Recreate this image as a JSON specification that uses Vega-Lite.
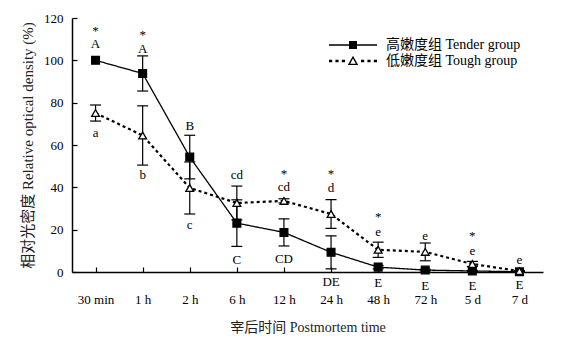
{
  "$schema": "https://vega.github.io/schema/vega-lite/v6.json",
  "autosize": {"type": "none"},
  "width": 471,
  "height": 254,
  "padding": {"left": 72, "top": 18, "right": 20, "bottom": 76},
  "background": "white",
  "config": {
    "font": "Liberation Serif, Noto Sans CJK SC",
    "view": {"stroke": null},
    "axis": {"domainColor": "black", "domainWidth": 1.5, "tickColor": "black", "tickWidth": 1.2, "labelColor": "black", "titleColor": "#222", "labelFontSize": 13, "titleFontSize": 14, "titleFontWeight": "normal", "grid": false, "labelFont": "Liberation Serif, Noto Sans CJK SC", "titleFont": "Liberation Serif, Noto Sans CJK SC"},
    "legend": {"labelFont": "Liberation Serif, Noto Sans CJK SC"},
    "text": {"font": "Liberation Serif, Noto Sans CJK SC"}
  },
  "datasets": {
    "series": [
      {"time": "30 min", "group": "高嫩度组 Tender group", "value": 100, "err": 0},
      {"time": "1 h", "group": "高嫩度组 Tender group", "value": 93.8, "err": 8.3},
      {"time": "2 h", "group": "高嫩度组 Tender group", "value": 54.3, "err": 10.3},
      {"time": "6 h", "group": "高嫩度组 Tender group", "value": 23.1, "err": 11},
      {"time": "12 h", "group": "高嫩度组 Tender group", "value": 18.7, "err": 6.4},
      {"time": "24 h", "group": "高嫩度组 Tender group", "value": 9.3, "err": 7.8},
      {"time": "48 h", "group": "高嫩度组 Tender group", "value": 2.3, "err": 0.8},
      {"time": "72 h", "group": "高嫩度组 Tender group", "value": 0.9, "err": 0.4},
      {"time": "5 d", "group": "高嫩度组 Tender group", "value": 0.5, "err": 0.3},
      {"time": "7 d", "group": "高嫩度组 Tender group", "value": 0.1, "err": 0.1},
      {"time": "30 min", "group": "低嫩度组 Tough group", "value": 75.1, "err": 3.8},
      {"time": "1 h", "group": "低嫩度组 Tough group", "value": 64.5, "err": 14},
      {"time": "2 h", "group": "低嫩度组 Tough group", "value": 39.7, "err": 12.3},
      {"time": "6 h", "group": "低嫩度组 Tough group", "value": 32.6, "err": 8},
      {"time": "12 h", "group": "低嫩度组 Tough group", "value": 33.6, "err": 1},
      {"time": "24 h", "group": "低嫩度组 Tough group", "value": 27.4, "err": 6.8},
      {"time": "48 h", "group": "低嫩度组 Tough group", "value": 10.5, "err": 3.6},
      {"time": "72 h", "group": "低嫩度组 Tough group", "value": 9.5, "err": 4.2},
      {"time": "5 d", "group": "低嫩度组 Tough group", "value": 3.8, "err": 1.2},
      {"time": "7 d", "group": "低嫩度组 Tough group", "value": 0.4, "err": 0.3}
    ],
    "letters": [
      {"time": "30 min", "text": "*", "y": 114},
      {"time": "30 min", "text": "A", "y": 107.5},
      {"time": "1 h", "text": "*", "y": 112},
      {"time": "1 h", "text": "A", "y": 105.5},
      {"time": "2 h", "text": "B", "y": 69},
      {"time": "6 h", "text": "C", "y": 5.7},
      {"time": "12 h", "text": "CD", "y": 6.1},
      {"time": "24 h", "text": "DE", "y": -4.7},
      {"time": "48 h", "text": "E", "y": -5.2},
      {"time": "72 h", "text": "E", "y": -6.6},
      {"time": "5 d", "text": "E", "y": -6.6},
      {"time": "7 d", "text": "E", "y": -6.1},
      {"time": "30 min", "text": "a", "y": 65.9},
      {"time": "1 h", "text": "b", "y": 45.6},
      {"time": "2 h", "text": "c", "y": 22},
      {"time": "6 h", "text": "cd", "y": 45.6},
      {"time": "12 h", "text": "*", "y": 46.5},
      {"time": "12 h", "text": "cd", "y": 40},
      {"time": "24 h", "text": "*", "y": 46.5},
      {"time": "24 h", "text": "d", "y": 39.5},
      {"time": "48 h", "text": "*", "y": 25.9},
      {"time": "48 h", "text": "e", "y": 19},
      {"time": "72 h", "text": "e", "y": 16.8},
      {"time": "5 d", "text": "*", "y": 16.8},
      {"time": "5 d", "text": "e", "y": 9.9},
      {"time": "7 d", "text": "e", "y": 5.9}
    ]
  },
  "encoding": {
    "x": {
      "field": "time", "type": "ordinal",
      "sort": ["30 min", "1 h", "2 h", "6 h", "12 h", "24 h", "48 h", "72 h", "5 d", "7 d"],
      "scale": {"type": "point", "padding": 0.5},
      "axis": {"title": "宰后时间 Postmortem time", "labelAngle": 0, "tickSize": -5, "labelPadding": 26, "titlePadding": 14}
    }
  },
  "resolve": {"scale": {"shape": "independent"}, "legend": {"shape": "independent"}},
  "layer": [
    {
      "data": {"name": "series"},
      "mark": {"type": "line", "color": "black"},
      "encoding": {
        "y": {"field": "value", "type": "quantitative", "scale": {"domain": [0, 120]}, "axis": {"values": [0, 20, 40, 60, 80, 100, 120], "tickSize": -5, "labelPadding": 14, "title": "相对光密度 Relative optical density (%)", "titlePadding": 8, "titleFontSize": 15}},
        "detail": {"field": "group"},
        "strokeDash": {"condition": {"test": "datum.group === '高嫩度组 Tender group'", "value": [1, 0]}, "value": [3, 3]},
        "strokeWidth": {"condition": {"test": "datum.group === '高嫩度组 Tender group'", "value": 1.3}, "value": 2.2}
      }
    },
    {
      "data": {"name": "series"},
      "transform": [{"filter": "datum.err > 0"}, {"calculate": "datum.value - datum.err", "as": "lo"}, {"calculate": "datum.value + datum.err", "as": "hi"}],
      "layer": [
        {"mark": {"type": "rule", "color": "black", "strokeWidth": 1.2}, "encoding": {"y": {"field": "lo", "type": "quantitative"}, "y2": {"field": "hi"}}},
        {"mark": {"type": "tick", "color": "black", "thickness": 1.2, "size": 11, "opacity": 1}, "encoding": {"y": {"field": "lo", "type": "quantitative"}}},
        {"mark": {"type": "tick", "color": "black", "thickness": 1.2, "size": 11, "opacity": 1}, "encoding": {"y": {"field": "hi", "type": "quantitative"}}}
      ]
    },
    {
      "data": {"name": "series"},
      "mark": {"type": "point", "size": 60, "strokeWidth": 1.3, "opacity": 1, "stroke": "black"},
      "encoding": {
        "y": {"field": "value", "type": "quantitative"},
        "shape": {
          "field": "group", "type": "nominal",
          "scale": {"domain": ["高嫩度组 Tender group", "低嫩度组 Tough group"], "range": ["square", "triangle-up"]},
          "legend": null
        },
        "fill": {"condition": {"test": "datum.group === '高嫩度组 Tender group'", "value": "black"}, "value": "white"}
      }
    },
    {
      "data": {"name": "series"},
      "mark": {"type": "point", "filled": true, "color": "black", "opacity": 0, "strokeWidth": 0, "size": 1},
      "encoding": {
        "y": {"field": "value", "type": "quantitative"},
        "shape": {
          "field": "group", "type": "nominal",
          "scale": {"domain": ["高嫩度组 Tender group", "低嫩度组 Tough group"], "range": [
            "M-3,-0.08H3V0.08H-3ZM-0.5,-0.5H0.5V0.5H-0.5Z",
            "M-3,-0.15H-2.6V0.15H-3ZM-2.2,-0.15H-1.8V0.15H-2.2ZM-1.4,-0.15H-1V0.15H-1.4ZM1,-0.15H1.4V0.15H1ZM1.8,-0.15H2.2V0.15H1.8ZM2.6,-0.15H3V0.15H2.6ZM0,-0.65L0.65,0.5L-0.65,0.5ZM0,-0.3L-0.356,0.33L0.356,0.33Z"
          ]},
          "legend": {
            "title": null, "orient": "none", "legendX": 273, "legendY": 19, "padding": 0,
            "labelFontSize": 14, "labelColor": "black",
            "symbolSize": 256, "labelOffset": 25, "rowPadding": 1,
            "symbolFillColor": "black", "symbolStrokeColor": "black", "symbolStrokeWidth": 0, "symbolOpacity": 1
          }
        }
      }
    },
    {
      "data": {"name": "letters"},
      "mark": {"type": "text", "fontSize": 13, "baseline": "middle", "align": "center", "fill": "black"},
      "encoding": {
        "y": {"field": "y", "type": "quantitative"},
        "text": {"field": "text"}
      }
    }
  ]
}
